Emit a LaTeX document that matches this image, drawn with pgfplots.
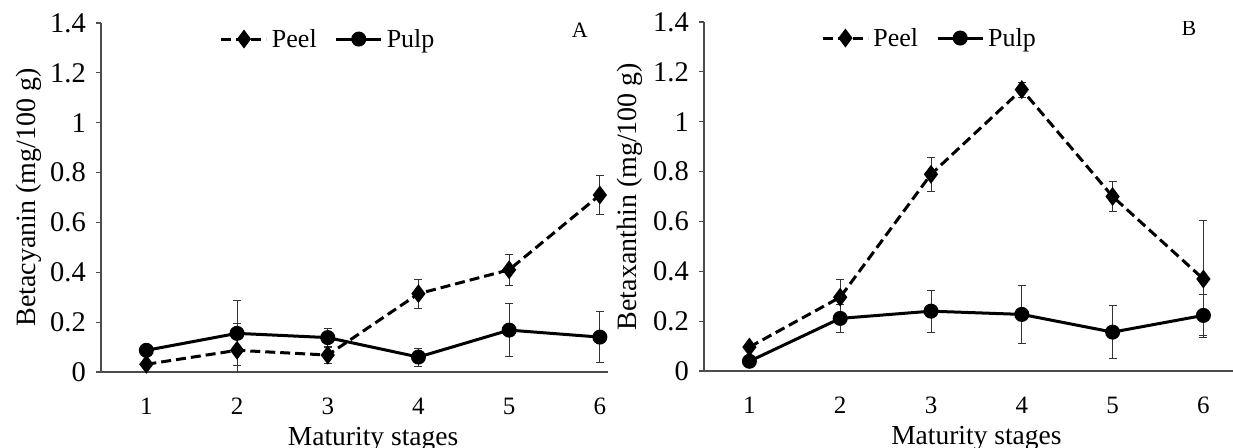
\documentclass[border=0pt]{standalone}
\usepackage{fontspec}
\setmainfont{Liberation Serif}
\usepackage{pgfplots}
\usepackage{pgfplotstable}
\pgfplotsset{compat=1.18}

% x  y  err
\pgfplotstableread{
x y e
1 0.031 0.005
2 0.087 0.107
3 0.068 0.032
4 0.314 0.058
5 0.410 0.062
6 0.710 0.077
}\peelA
\pgfplotstableread{
x y e
1 0.087 0.005
2 0.155 0.130
3 0.138 0.035
4 0.060 0.036
5 0.168 0.107
6 0.140 0.102
}\pulpA
\pgfplotstableread{
x y e
1 0.096 0.005
2 0.296 0.073
3 0.789 0.067
4 1.129 0.030
5 0.700 0.061
6 0.369 0.234
}\peelB
\pgfplotstableread{
x y e
1 0.039 0.005
2 0.211 0.055
3 0.240 0.084
4 0.227 0.116
5 0.156 0.107
6 0.223 0.082
}\pulpB

\pgfplotsset{
  panel/.style={
    scale only axis, height=349pt,
    ymin=0, ymax=1.4, xmin=0.5,
    axis lines*=left,
    axis line style={black!70, line width=1.2pt},
    tick align=outside,
    major tick length=5pt, minor tick length=9pt,
    tick style={black!70, line width=1.2pt},
    xtick=\empty,
    minor xtick={0.5,1.5,2.5,3.5,4.5,5.5},
    extra x ticks={1,2,3,4,5,6},
    extra x tick labels={1,2,3,4,5,6},
    extra x tick style={major tick length=0pt,
      xticklabel style={font=\fontsize{25}{25}\selectfont, inner sep=0pt, anchor=north, yshift=-26pt}},
    ytick={0,0.2,0.4,0.6,0.8,1,1.2,1.4},
    yticklabels={0,0.2,0.4,0.6,0.8,1,1.2,1.4},
    yticklabel style={font=\fontsize{28.5}{28.5}\selectfont, inner sep=0pt, xshift=-10pt},
    every axis x label/.style={at={(axis cs:3.5,0)}, anchor=base, yshift=-73pt,
      font=\fontsize{27.5}{27.5}\selectfont},
    legend columns=2,
    legend style={draw=none, fill=none, inner sep=0pt, outer sep=0pt,
      font=\fontsize{26}{26}\selectfont, nodes={inner sep=0pt},
      /tikz/every odd column/.style={column sep=4pt},
      /tikz/every even column/.style={column sep=18pt}},
    legend image code/.code={
      \draw[##1, mark=none] (0pt,0pt) -- (45pt,0pt);
      \draw[##1] plot coordinates {(22.5pt,0pt)};
    },
    peel/.style={black, line width=3pt, dash pattern=on 10pt off 5pt,
      mark=diamond*, mark size=7pt, mark options={solid}},
    pulp/.style={black, line width=3pt, solid, mark=*, mark size=6pt},
    error bars/y dir=both, error bars/y explicit,
    error bars/error bar style={black!80, line width=1pt, solid},
    error bars/error mark options={rotate=90, mark size=4pt, line width=1pt, black!80, solid},
  }
}

\begin{document}
\begin{tikzpicture}
\begin{axis}[panel, at={(101pt,75pt)}, anchor=south west,
  width=507pt, xmax=6.09,
  xlabel={Maturity stages},
  ylabel={Betacyanin (mg/100 g)},
  every axis y label/.style={at={(axis description cs:-0.130,0.5)}, rotate=90, anchor=base,
    font=\fontsize{28}{28}\selectfont},
  legend style={at={(axis description cs:0.2347,0.954)}, anchor=west}]
\addplot[peel] table[x=x, y=y, y error=e] {\peelA};
\addlegendentry{Peel}
\addplot[pulp] table[x=x, y=y, y error=e] {\pulpA};
\addlegendentry{Pulp}
\node[font=\fontsize{22}{22}\selectfont, anchor=base] at (axis cs:5.78,1.34) {A};
\end{axis}
\begin{axis}[panel, at={(704pt,76pt)}, anchor=south west,
  width=529pt, xmax=6.326,
  xlabel={Maturity stages},
  ylabel={Betaxanthin (mg/100 g)},
  every axis y label/.style={at={(axis description cs:-0.127,0.5)}, rotate=90, anchor=base,
    font=\fontsize{28}{28}\selectfont},
  legend style={at={(axis description cs:0.222,0.954)}, anchor=west}]
\addplot[peel] table[x=x, y=y, y error=e] {\peelB};
\addlegendentry{Peel}
\addplot[pulp] table[x=x, y=y, y error=e] {\pulpB};
\addlegendentry{Pulp}
\node[font=\fontsize{22}{22}\selectfont, anchor=base] at (axis cs:5.84,1.344) {B};
\end{axis}
\pgfresetboundingbox
\path[use as bounding box] (0pt,0pt) rectangle (1233pt,447pt);
\end{tikzpicture}
\end{document}
